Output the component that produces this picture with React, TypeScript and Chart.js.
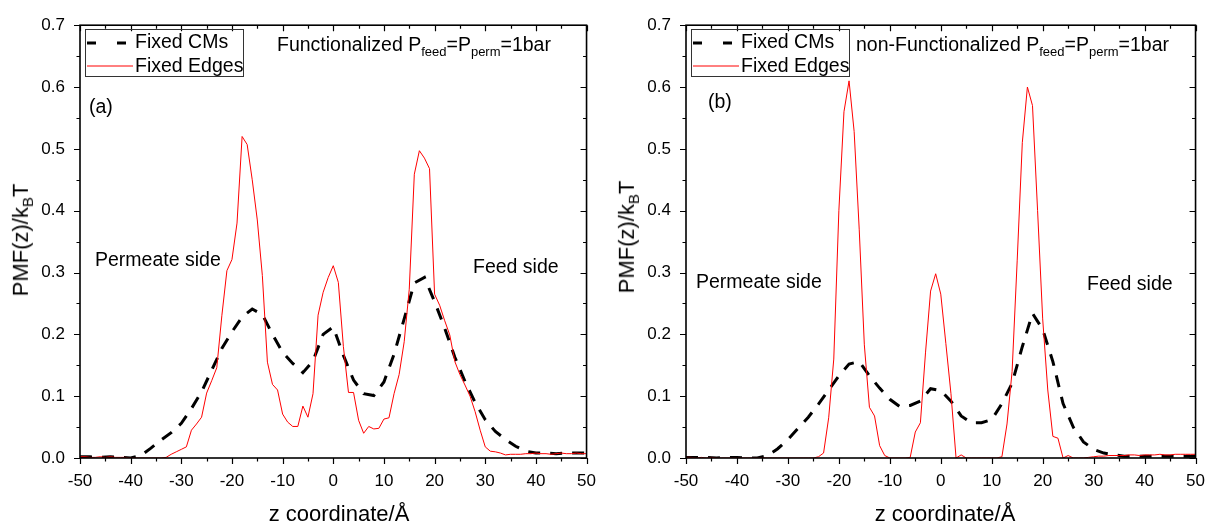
import React, { useEffect, useRef } from 'react';
import { Chart, registerables } from 'chart.js';

Chart.register(...registerables);

const FONT = '"Liberation Sans", Arial, Helvetica, sans-serif';

// ---------- data ----------
const zCM = [
  -50, -48, -46, -44, -42, -40, -38, -36, -34, -32, -30, -28, -26, -24, -22, -20, -18, -16, -14, -12, -10,
  -8, -6, -4, -2, 0, 2, 4, 6, 8, 10, 12, 14, 16, 18, 20, 22, 24, 26, 28, 30, 32, 34, 36, 38, 40, 42, 44,
  46, 48, 50,
];

const cmFunctionalized = [
  0.002, 0.002, 0.001, 0.002, 0.001, 0.0, 0.004, 0.016, 0.029, 0.041, 0.056, 0.08, 0.107, 0.142, 0.177,
  0.204, 0.228, 0.241, 0.232, 0.2, 0.171, 0.153, 0.138, 0.157, 0.2, 0.212, 0.166, 0.126, 0.104, 0.101,
  0.123, 0.168, 0.225, 0.283, 0.292, 0.253, 0.21, 0.163, 0.124, 0.09, 0.062, 0.043, 0.03, 0.019, 0.011,
  0.008, 0.008, 0.007, 0.008, 0.008, 0.008,
];

const cmNonFunctionalized = [
  0.001, 0.001, 0.001, 0.0, 0.001, 0.001, 0.0, 0.0, 0.004, 0.015, 0.03, 0.048, 0.066, 0.087, 0.11, 0.133,
  0.152, 0.156, 0.133, 0.113, 0.095, 0.083, 0.085, 0.092, 0.112, 0.109, 0.092, 0.068, 0.057, 0.057, 0.062,
  0.088, 0.121, 0.18, 0.234, 0.208, 0.156, 0.088, 0.05, 0.026, 0.014, 0.008, 0.005, 0.003, 0.003, 0.003,
  0.003, 0.003, 0.003, 0.003, 0.003,
];

const zEdges = [
  -50, -49, -48, -47, -46, -45, -44, -43, -42, -41, -40, -39, -38, -37, -36, -35, -34, -33, -32, -31, -30,
  -29, -28, -27, -26, -25, -24, -23, -22, -21, -20, -19, -18, -17, -16, -15, -14, -13, -12, -11, -10, -9,
  -8, -7, -6, -5, -4, -3, -2, -1, 0, 1, 2, 3, 4, 5, 6, 7, 8, 9, 10, 11, 12, 13, 14, 15, 16, 17, 18, 19, 20,
  21, 22, 23, 24, 25, 26, 27, 28, 29, 30, 31, 32, 33, 34, 35, 36, 37, 38, 39, 40, 41, 42, 43, 44, 45, 46,
  47, 48, 49, 50,
];

const edgesFunctionalized = [
  0.002, 0.002, 0.001, 0.001, 0.002, 0.001, 0.002, 0.001, 0.001, 0.001,
  0.0, 0.0, 0.0, 0.0, 0.0, 0.0, 0.0, 0.001, 0.006, 0.01,
  0.014, 0.018, 0.045, 0.055, 0.066, 0.105, 0.125, 0.146, 0.23, 0.303,
  0.321, 0.38, 0.52, 0.507, 0.45, 0.385, 0.295, 0.155, 0.119, 0.11,
  0.071, 0.058, 0.051, 0.051, 0.084, 0.066, 0.104, 0.231, 0.268, 0.292,
  0.311,
  0.284, 0.18, 0.106, 0.106, 0.061, 0.04, 0.051, 0.047, 0.048, 0.063,
  0.065, 0.104, 0.135, 0.188, 0.273, 0.459, 0.497, 0.485, 0.468, 0.265,
  0.247, 0.222, 0.199, 0.156, 0.135, 0.118, 0.1, 0.075, 0.045, 0.018,
  0.011, 0.01, 0.008, 0.005, 0.006, 0.006, 0.006, 0.007, 0.007, 0.008,
  0.007, 0.007, 0.006, 0.007, 0.008, 0.007, 0.007, 0.008, 0.007, 0.007,
];

const edgesNonFunctionalized = [
  0.001, 0.001, 0.0, 0.001, 0.0, 0.001, 0.0, 0.0, 0.0, 0.0,
  0.0, 0.0, 0.0, 0.0, 0.0, 0.0, 0.0, 0.0, 0.0, 0.0,
  0.0, 0.0, 0.0, 0.0, 0.0, 0.0, 0.002, 0.008, 0.065, 0.16,
  0.4, 0.56, 0.61, 0.528, 0.369, 0.183, 0.082, 0.068, 0.02, 0.004,
  0.0, 0.0, 0.0, 0.0, 0.001, 0.042, 0.057, 0.17, 0.27, 0.298,
  0.265,
  0.185, 0.104, 0.0, 0.005, 0.0, 0.0, 0.0, 0.0, 0.0, 0.0,
  0.0, 0.002, 0.055, 0.14, 0.32, 0.51, 0.6, 0.57, 0.4, 0.225,
  0.11, 0.035, 0.032, 0.0, 0.004, 0.0, 0.0, 0.0, 0.001, 0.002,
  0.003, 0.003, 0.004, 0.004, 0.004, 0.004, 0.005, 0.005, 0.004, 0.005,
  0.005, 0.005, 0.006, 0.005, 0.005, 0.006, 0.006, 0.006, 0.006, 0.006,
];

const xMajorTicks = [-50, -40, -30, -20, -10, 0, 10, 20, 30, 40, 50];
const xMinorTicks = [-45, -35, -25, -15, -5, 5, 15, 25, 35, 45];
const yMajorTicks = [0, 0.1, 0.2, 0.3, 0.4, 0.5, 0.6, 0.7];
const yMinorTicks = [0.05, 0.15, 0.25, 0.35, 0.45, 0.55, 0.65];

// ---------- frame + ticks plugin ----------
const framePlugin = {
  id: 'frameTicks',
  afterDatasetsDraw(chart: any) {
    const { ctx, chartArea: a, scales } = chart;
    const xs = scales.x;
    const ys = scales.y;
    ctx.save();
    ctx.strokeStyle = '#000';
    ctx.lineWidth = 1.2;
    ctx.beginPath();
    const xt = (v: number, L: number) => {
      const p = Math.round(xs.getPixelForValue(v)) + 0.5;
      ctx.moveTo(p, a.bottom);
      ctx.lineTo(p, a.bottom + L);
      ctx.moveTo(p, a.top);
      ctx.lineTo(p, a.top + L);
    };
    const yt = (v: number, L: number) => {
      const p = Math.round(ys.getPixelForValue(v)) + 0.5;
      ctx.moveTo(a.left, p);
      ctx.lineTo(a.left - L, p);
      ctx.moveTo(a.right, p);
      ctx.lineTo(a.right - L, p);
    };
    xMajorTicks.forEach((v) => xt(v, 6));
    xMinorTicks.forEach((v) => xt(v, 3.5));
    yMajorTicks.forEach((v) => yt(v, 6));
    yMinorTicks.forEach((v) => yt(v, 3.5));
    ctx.stroke();
    ctx.lineWidth = 1.6;
    ctx.strokeRect(a.left, a.top, a.right - a.left, a.bottom - a.top);
    ctx.restore();
  },
};

// ---------- panel ----------
type PanelProps = {
  left: number;
  yAxisWidth: number;
  padRight: number;
  cm: number[];
  edges: number[];
};

function Panel({ left, yAxisWidth, padRight, cm, edges }: PanelProps) {
  const ref = useRef<HTMLCanvasElement>(null);
  useEffect(() => {
    const tickFont = { family: FONT, size: 17 };
    const chart = new Chart(ref.current as HTMLCanvasElement, {
      type: 'line',
      data: {
        datasets: [
          {
            label: 'Fixed Edges',
            data: zEdges.map((x, i) => ({ x, y: edges[i] })),
            borderColor: '#ff0000',
            backgroundColor: '#ff0000',
            borderWidth: 1,
            pointRadius: 0,
            tension: 0,
            order: 1,
          },
          {
            label: 'Fixed CMs',
            data: zCM.map((x, i) => ({ x, y: cm[i] })),
            borderColor: '#000000',
            backgroundColor: '#000000',
            borderWidth: 3,
            borderDash: [12, 10],
            pointRadius: 0,
            tension: 0,
            order: 2,
          },
        ],
      },
      options: {
        responsive: false,
        animation: false,
        devicePixelRatio: 1,
        layout: { padding: { top: 19, right: padRight, left: 0, bottom: 0 } },
        plugins: { legend: { display: false }, tooltip: { enabled: false }, title: { display: false } },
        scales: {
          x: {
            type: 'linear',
            min: -50,
            max: 50,
            afterBuildTicks: (s: any) => {
              s.ticks = xMajorTicks.map((v) => ({ value: v }));
            },
            afterFit: (s: any) => {
              s.height = 71;
            },
            grid: { display: false, drawTicks: false },
            border: { display: false },
            ticks: {
              font: tickFont,
              color: '#000',
              padding: 13,
              maxRotation: 0,
              autoSkip: false,
              callback: (v: any) => String(v),
            },
          },
          y: {
            type: 'linear',
            min: 0,
            max: 0.7,
            afterBuildTicks: (s: any) => {
              s.ticks = yMajorTicks.map((v) => ({ value: v }));
            },
            afterFit: (s: any) => {
              s.width = yAxisWidth;
            },
            grid: { display: false, drawTicks: false },
            border: { display: false },
            ticks: {
              font: tickFont,
              color: '#000',
              padding: 15,
              autoSkip: false,
              callback: (v: any) => Number(v).toFixed(1),
            },
          },
        },
      },
      plugins: [framePlugin],
    } as any);
    return () => chart.destroy();
  }, []);
  return (
    <canvas
      ref={ref}
      width={609}
      height={529}
      style={{ position: 'absolute', left, top: 0, width: 609, height: 529 }}
    />
  );
}

// ---------- text helpers ----------
function Txt({ x, base, size, children }: { x: number; base: number; size: number; children: any }) {
  return (
    <div
      style={{
        position: 'absolute',
        left: x,
        top: base - 0.8465 * size,
        fontFamily: FONT,
        fontSize: size,
        lineHeight: 1,
        whiteSpace: 'nowrap',
        color: '#000',
      }}
    >
      {children}
    </div>
  );
}

function CenterTxt({ cx, base, size, children }: { cx: number; base: number; size: number; children: any }) {
  return (
    <div
      style={{
        position: 'absolute',
        left: cx,
        top: base - 0.8465 * size,
        transform: 'translateX(-50%)',
        fontFamily: FONT,
        fontSize: size,
        lineHeight: 1,
        whiteSpace: 'nowrap',
        color: '#000',
      }}
    >
      {children}
    </div>
  );
}

function YTitle({ baseX, cy }: { baseX: number; cy: number }) {
  const f = 22;
  return (
    <div
      style={{
        position: 'absolute',
        left: 0,
        top: 0,
        transformOrigin: '0 0',
        transform: `translate(${baseX - 0.8465 * f}px, ${cy}px) rotate(-90deg) translateX(-50%)`,
        fontFamily: FONT,
        fontSize: f,
        lineHeight: 1,
        whiteSpace: 'nowrap',
        color: '#000',
      }}
    >
      PMF(z)/k<span style={{ fontSize: 15, verticalAlign: '-5px' }}>B</span>T
    </div>
  );
}

const SUB = { fontSize: 13, verticalAlign: '-5px' };

function Legend({ left }: { left: number }) {
  return (
    <div
      style={{
        position: 'absolute',
        left,
        top: 29,
        width: 159,
        height: 48,
        border: '1px solid #333',
        boxSizing: 'border-box',
        background: 'transparent',
      }}
    >
      <svg width={46} height={40} style={{ position: 'absolute', left: 1, top: 0 }}>
        <line x1={0} y1={13} x2={46} y2={13} stroke="#000" strokeWidth={3} strokeDasharray="9 21" />
        <line x1={0} y1={36} x2={46} y2={36} stroke="#ff0000" strokeWidth={1} />
      </svg>
    </div>
  );
}

function Annotation({ x, prefix }: { x: number; prefix: string }) {
  return (
    <Txt x={x} base={51.7} size={19.5}>
      {prefix} P<span style={SUB}>feed</span>=P<span style={SUB}>perm</span>=1bar
    </Txt>
  );
}

export default function App() {
  return (
    <div style={{ position: 'absolute', left: 0, top: 0, width: 1218, height: 529, background: '#fff', overflow: 'hidden' }}>
      <Panel left={0} yAxisWidth={80} padRight={11} cm={cmFunctionalized} edges={edgesFunctionalized} />
      <Panel left={609} yAxisWidth={77} padRight={14} cm={cmNonFunctionalized} edges={edgesNonFunctionalized} />

      {/* panel (a) texts */}
      <Legend left={85} />
      <Txt x={135} base={48.5} size={19.5}>Fixed CMs</Txt>
      <Txt x={135} base={72.5} size={19.5}>Fixed Edges</Txt>
      <Annotation x={277} prefix="Functionalized" />
      <Txt x={89} base={114} size={19.5}>(a)</Txt>
      <Txt x={95} base={267} size={19.5}>Permeate side</Txt>
      <Txt x={473} base={274} size={19.5}>Feed side</Txt>
      <YTitle baseX={28.5} cy={240} />
      <CenterTxt cx={339} base={522} size={22}>z coordinate/Å</CenterTxt>

      {/* panel (b) texts */}
      <Legend left={691} />
      <Txt x={741} base={48.5} size={19.5}>Fixed CMs</Txt>
      <Txt x={741} base={72.5} size={19.5}>Fixed Edges</Txt>
      <Annotation x={856} prefix="non-Functionalized" />
      <Txt x={708} base={109} size={19.5}>(b)</Txt>
      <Txt x={696} base={289} size={19.5}>Permeate side</Txt>
      <Txt x={1087} base={291} size={19.5}>Feed side</Txt>
      <YTitle baseX={634.5} cy={237} />
      <CenterTxt cx={945} base={522} size={22}>z coordinate/Å</CenterTxt>
    </div>
  );
}
